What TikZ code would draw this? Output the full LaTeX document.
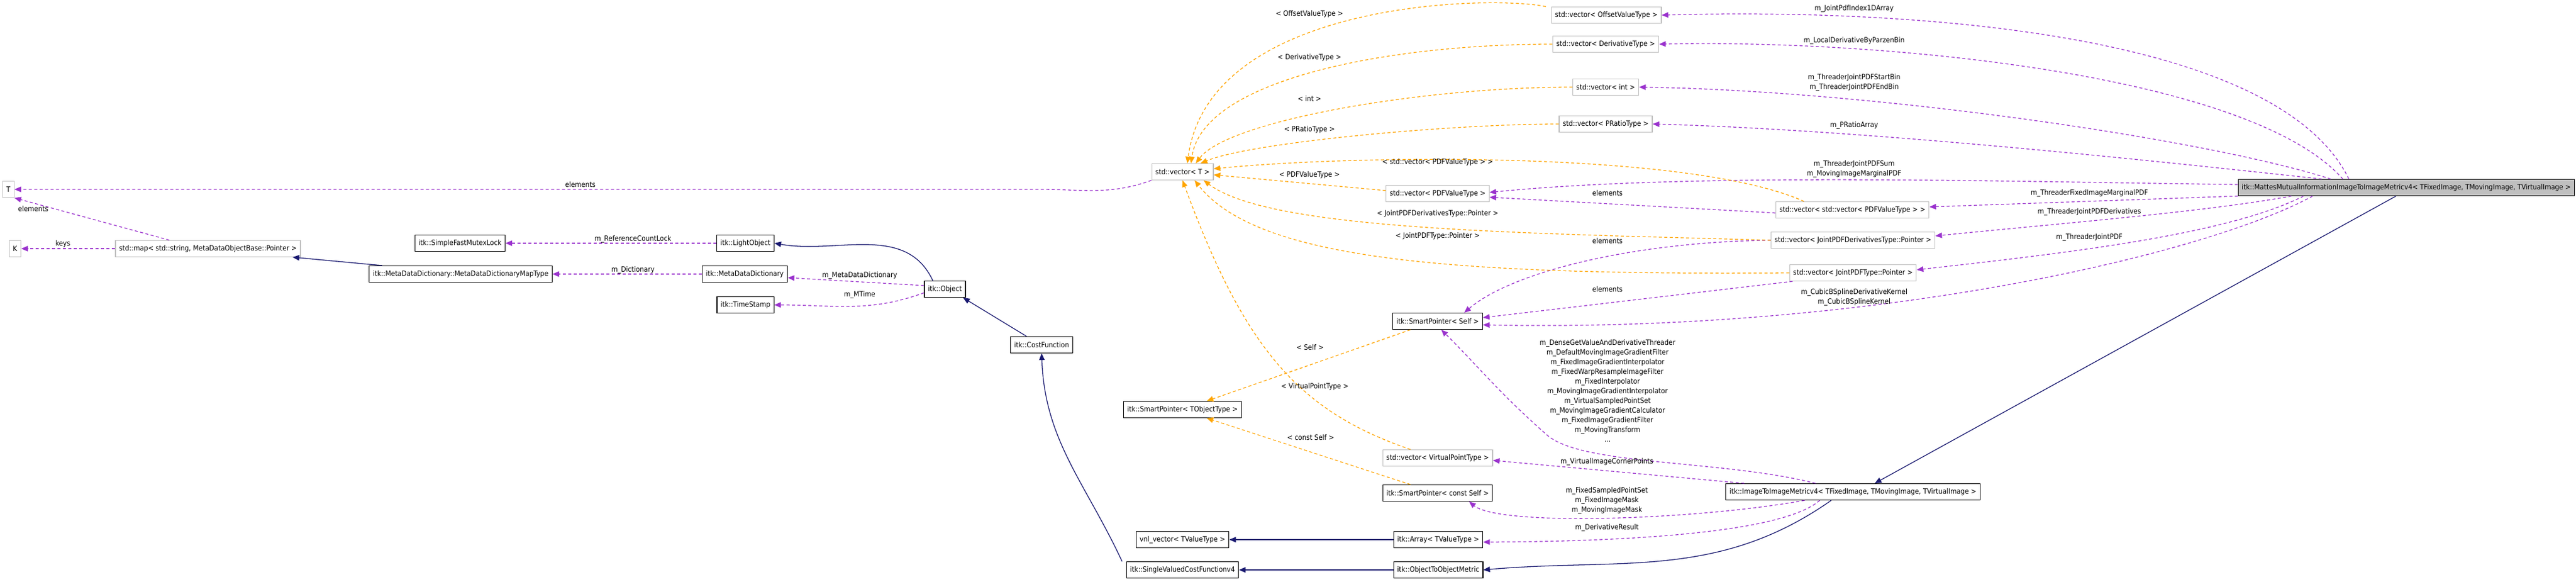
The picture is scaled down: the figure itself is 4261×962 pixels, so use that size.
\documentclass[tikz,border=0pt]{standalone}
\usepackage{fontspec}
\setmainfont{DejaVu Sans Condensed}
\usetikzlibrary{arrows.meta,calc}
\definecolor{usec}{HTML}{9A32CD}
\definecolor{tplc}{HTML}{FFA500}
\definecolor{inhc}{HTML}{191970}
\definecolor{grayb}{HTML}{BFBFBF}
\tikzset{
  cls/.style={draw=black,line width=0.3pt,fill=white,minimum height=6.75pt,inner xsep=1.5pt,inner ysep=0.5pt,font=\fontsize{3}{3.5}\selectfont},
  ext/.style={cls,draw=grayb},
  mainc/.style={cls,fill=grayb},
  lbl/.style={font=\fontsize{3}{4}\selectfont,align=center,inner sep=0.25pt},
  use/.style={draw=usec,line width=0.32pt,dash pattern=on 1.25pt off 1pt,-{Triangle[length=2.75pt,width=2.25pt]}},
  tpl/.style={draw=tplc,line width=0.32pt,dash pattern=on 1.25pt off 1pt,-{Triangle[length=2.75pt,width=2.25pt]}},
  inh/.style={draw=inhc,line width=0.32pt,-{Triangle[length=2.75pt,width=2.25pt]}},
}
\begin{document}
\begin{tikzpicture}[x=0.25pt,y=-0.25pt]
\useasboundingbox[fill=white] (0,0) rectangle (4261,962);
% nodes
\node[ext] (T) at (14,313) {T};
\node[ext] (K) at (25,411) {K};
\node[ext] (map) at (344,411) {std::map< std::string, MetaDataObjectBase::Pointer >};
\node[cls] (mapt) at (762,453) {itk::MetaDataDictionary::MetaDataDictionaryMapType};
\node[cls] (mutex) at (761,402) {itk::SimpleFastMutexLock};
\node[cls] (light) at (1233,402) {itk::LightObject};
\node[cls] (mdd) at (1232,453) {itk::MetaDataDictionary};
\node[cls] (obj) at (1563,478) {itk::Object};
\node[cls] (ts) at (1233,504) {itk::TimeStamp};
\node[cls] (cost) at (1723,570) {itk::CostFunction};
\node[ext] (vecT) at (1956,284) {std::vector< T >};
\node[cls] (spT) at (1956,677) {itk::SmartPointer< TObjectType >};
\node[cls] (vnl) at (1956,892) {vnl\_vector< TValueType >};
\node[cls] (svcf) at (1956,942) {itk::SingleValuedCostFunctionv4};
\node[cls] (sps) at (2378,531) {itk::SmartPointer< Self >};
\node[ext] (vvp) at (2378,757) {std::vector< VirtualPointType >};
\node[cls] (spc) at (2378,815) {itk::SmartPointer< const Self >};
\node[cls] (arr) at (2379,892) {itk::Array< TValueType >};
\node[cls] (o2o) at (2379,942) {itk::ObjectToObjectMetric};
\node[cls] (i2i) at (3065,813) {itk::ImageToImageMetricv4< TFixedImage, TMovingImage, TVirtualImage >};
\node[ext] (voff) at (2657,25) {std::vector< OffsetValueType >};
\node[ext] (vder) at (2656,73) {std::vector< DerivativeType >};
\node[ext] (vint) at (2656,144) {std::vector< int >};
\node[ext] (vpr) at (2656,205) {std::vector< PRatioType >};
\node[ext] (vpdf) at (2378,320) {std::vector< PDFValueType >};
\node[ext] (vvv) at (3064,347) {std::vector< std::vector< PDFValueType > >};
\node[ext] (vjd) at (3065,397) {std::vector< JointPDFDerivativesType::Pointer >};
\node[ext] (vjp) at (3065,451) {std::vector< JointPDFType::Pointer >};
\node[mainc,anchor=east] (main) at (4259,310) {itk::MattesMutualInformationImageToImageMetricv4< TFixedImage, TMovingImage, TVirtualImage >};
% inheritance
\draw[inh] ($(mapt.north)+(-130,0)$) -- ($(map.south)+(140,0)$);
\draw[inh] ($(obj.north)+(-20,0)$) to[out=115,in=-10] (light.east);
\draw[inh] ($(cost.north)+(-25,0)$) -- ($(obj.south)+(30,0)$);
\draw[inh] ($(svcf.north)+(-100,0)$) to[out=115,in=-88] (cost.south);
\draw[inh] (o2o.west) -- (svcf.east);
\draw[inh] (arr.west) -- (vnl.east);
\draw[inh] ($(i2i.south)+(-36,0)$) to[out=215,in=5] (o2o.east);
\draw[inh] ($(main.south)+(-17,0)$) -- ($(i2i.north)+(36,0)$);
% usage
\draw[use] (vecT.south west) to[out=200,in=0] (1720,313) -- (T.east);
\node[lbl] (l1) at (960,305) {elements};
\draw[use] ($(map.north)+(-64,0)$) -- (T.south east);
\node[lbl] (l2) at (55,345) {elements};
\draw[use] (map.west) -- (K.east);
\node[lbl] (l3) at (104,403) {keys};
\draw[use] (light.west) -- (mutex.east);
\node[lbl] (l4) at (1047,395) {m\_ReferenceCountLock};
\draw[use] (mdd.west) -- (mapt.east);
\node[lbl] (l5) at (1047,446) {m\_Dictionary};
\draw[use] ($(obj.west)+(0,-6)$) -- ($(mdd.east)+(0,6)$);
\node[lbl] (l6) at (1422,455) {m\_MetaDataDictionary};
\draw[use] ($(obj.west)+(0,6)$) to[out=200,in=0] (ts.east);
\node[lbl] (l7) at (1422,487) {m\_MTime};
% main to vectors
\draw[use] ($(main.north)+(-95,0)$) .. controls (3760,40) and (3100,15) .. (voff.east);
\node[lbl] (m1) at (3067,14) {m\_JointPdfIndex1DArray};
\draw[use] ($(main.north)+(-105,0)$) .. controls (3720,120) and (3100,65) .. (vder.east);
\node[lbl] (m2) at (3067,67) {m\_LocalDerivativeByParzenBin};
\draw[use] ($(main.north)+(-125,0)$) .. controls (3650,230) and (3100,150) .. (vint.east);
\node[lbl] (m3) at (3067,136) {m\_ThreaderJointPDFStartBin\\m\_ThreaderJointPDFEndBin};
\draw[use] ($(main.north)+(-140,0)$) .. controls (3600,270) and (3100,215) .. (vpr.east);
\node[lbl] (m4) at (3067,207) {m\_PRatioArray};
\draw[use] ($(main.west)+(0,-5)$) .. controls (3300,300) and (2800,285) .. ($(vpdf.east)+(0,-2)$);
\node[lbl] (m5) at (3067,279) {m\_ThreaderJointPDFSum\\m\_MovingImageMarginalPDF};
\draw[use] (main.south west) -- ($(vvv.east)+(0,-5)$);
\node[lbl] (m6) at (3456,319) {m\_ThreaderFixedImageMarginalPDF};
\draw[use] ($(main.south)+(-190,0)$) .. controls (3650,350) and (3400,370) .. ($(vjd.east)+(0,-7)$);
\node[lbl] (m7) at (3456,350) {m\_ThreaderJointPDFDerivatives};
\draw[use] ($(main.south)+(-170,0)$) .. controls (3680,390) and (3400,420) .. ($(vjp.east)+(0,-5)$);
\node[lbl] (m8) at (3456,392) {m\_ThreaderJointPDF};
\draw[use] ($(main.south)+(-155,0)$) .. controls (3650,420) and (3100,550) .. ($(sps.east)+(0,6)$);
\node[lbl] (m9) at (3067,491) {m\_CubicBSplineDerivativeKernel\\m\_CubicBSplineKernel};
\draw[use] ($(vvv.west)+(0,5)$) -- ($(vpdf.east)+(0,6)$);
\node[lbl] (e1) at (2659,319) {elements};
\draw[use] (vjd.west) .. controls (2700,400) and (2500,450) .. ($(sps.north)+(44,0)$);
\node[lbl] (e2) at (2659,398) {elements};
\draw[use] ($(vjp.south)+(-100,0)$) -- ($(sps.east)+(0,-6)$);
\node[lbl] (e3) at (2659,478) {elements};
% i2i usage
\draw[use] ($(i2i.north)+(-62,0)$) .. controls (2850,760) and (2620,770) .. (2560,720) .. controls (2480,650) and (2440,600) .. ($(sps.south)+(6,0)$);
\node[lbl] (m10) at (2659,646) {m\_DenseGetValueAndDerivativeThreader\\m\_DefaultMovingImageGradientFilter\\m\_FixedImageGradientInterpolator\\m\_FixedWarpResampleImageFilter\\m\_FixedInterpolator\\m\_MovingImageGradientInterpolator\\m\_VirtualSampledPointSet\\m\_MovingImageGradientCalculator\\m\_FixedImageGradientFilter\\m\_MovingTransform\\...};
\draw[use] ($(i2i.north)+(-180,0)$) -- ($(vvp.east)+(0,4)$);
\node[lbl] (m11) at (2658,763) {m\_VirtualImageCornerPoints};
\draw[use] ($(i2i.south)+(-80,0)$) .. controls (2800,860) and (2480,870) .. ($(spc.south)+(52,0)$);
\node[lbl] (m12) at (2658,827) {m\_FixedSampledPointSet\\m\_FixedImageMask\\m\_MovingImageMask};
\draw[use] ($(i2i.south)+(-55,0)$) .. controls (2950,880) and (2700,895) .. ($(arr.east)+(0,4)$);
\node[lbl] (m13) at (2658,872) {m\_DerivativeResult};
% templates
\draw[tpl] ($(voff.north)+(-100,0)$) .. controls (2470,-8) and (2000,0) .. ($(vecT.north)+(8,0)$);
\node[lbl] (t1) at (2166,23) {< OffsetValueType >};
\draw[tpl] (vder.west) .. controls (2300,73) and (1990,130) .. ($(vecT.north)+(14,0)$);
\node[lbl] (t2) at (2166,95) {< DerivativeType >};
\draw[tpl] (vint.west) .. controls (2350,144) and (2030,200) .. ($(vecT.north)+(22,0)$);
\node[lbl] (t3) at (2166,163) {< int >};
\draw[tpl] (vpr.west) .. controls (2400,205) and (2070,235) .. ($(vecT.north)+(30,0)$);
\node[lbl] (t4) at (2166,214) {< PRatioType >};
\draw[tpl] ($(vvv.north)+(-80,0)$) .. controls (2800,250) and (2250,255) .. ($(vecT.east)+(0,-5)$);
\node[lbl] (t5) at (2378,268) {< std::vector< PDFValueType > >};
\draw[tpl] ($(vpdf.west)+(0,-5)$) -- ($(vecT.east)+(0,5)$);
\node[lbl] (t6) at (2166,289) {< PDFValueType >};
\draw[tpl] (vjd.west) .. controls (2500,385) and (2100,380) .. ($(vecT.south)+(35,0)$);
\node[lbl] (t7) at (2378,353) {< JointPDFDerivativesType::Pointer >};
\draw[tpl] (vjp.west) .. controls (2400,455) and (2080,430) .. ($(vecT.south)+(20,0)$);
\node[lbl] (t8) at (2378,390) {< JointPDFType::Pointer >};
\draw[tpl] ($(vvp.north)+(-45,0)$) .. controls (2150,680) and (2060,580) .. (vecT.south);
\node[lbl] (t9) at (2175,639) {< VirtualPointType >};
\draw[tpl] ($(sps.south)+(-45,0)$) -- ($(spT.north)+(40,0)$);
\node[lbl] (t10) at (2167,574) {< Self >};
\draw[tpl] ($(spc.north)+(-45,0)$) -- ($(spT.south)+(40,0)$);
\node[lbl] (t11) at (2168,723) {< const Self >};
\end{tikzpicture}
\end{document}
